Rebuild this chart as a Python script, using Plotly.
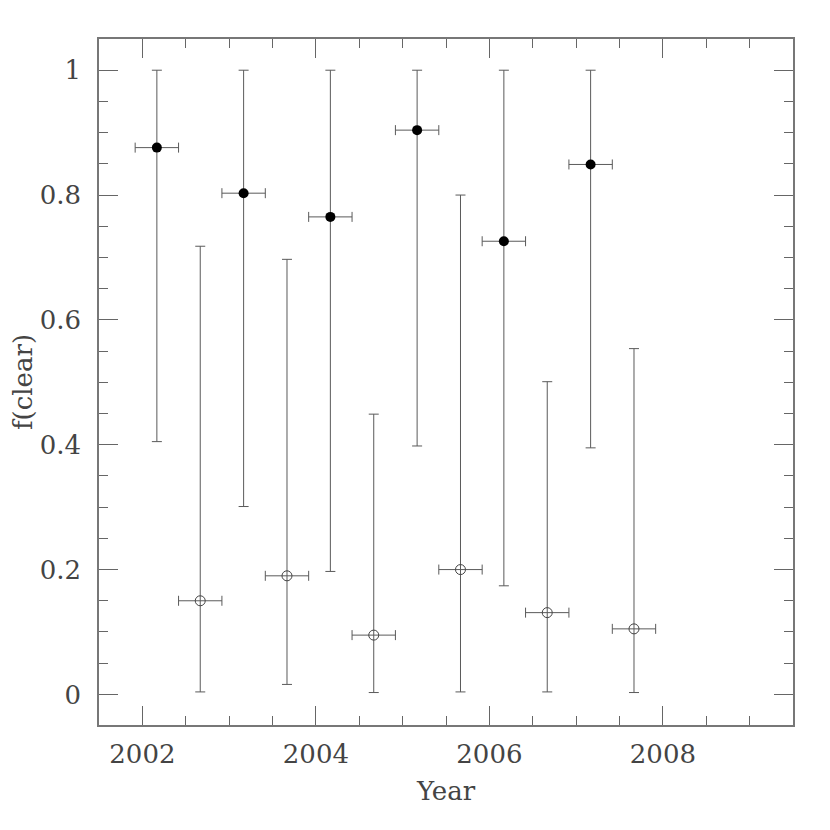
import plotly.graph_objects as go

# Filled (black) points
x_filled = [2002.167, 2003.167, 2004.167, 2005.167, 2006.167, 2007.167]
y_filled = [0.876, 0.803, 0.765, 0.904, 0.726, 0.849]
hi_filled = [1.0, 1.0, 1.0, 1.0, 1.0, 1.0]
lo_filled = [0.405, 0.301, 0.197, 0.398, 0.174, 0.395]

# Open points
x_open = [2002.667, 2003.667, 2004.667, 2005.667, 2006.667, 2007.667]
y_open = [0.150, 0.190, 0.095, 0.200, 0.131, 0.105]
hi_open = [0.718, 0.697, 0.449, 0.800, 0.501, 0.554]
lo_open = [0.004, 0.016, 0.003, 0.004, 0.004, 0.003]

x_halfwidth = 0.25

xticks = [2002, 2004, 2006, 2008]
yticks = [0, 0.2, 0.4, 0.6, 0.8, 1.0]
ytick_labels = ["0", "0.2", "0.4", "0.6", "0.8", "1"]

line_col = "#5a5a5a"
font_fam = "DejaVu Serif"
text_col = "#444444"

def err_y(y, hi, lo):
    return dict(type="data", symmetric=False,
                array=[h - v for h, v in zip(hi, y)],
                arrayminus=[v - l for v, l in zip(y, lo)],
                color=line_col, thickness=1, width=5)

def err_x():
    return dict(type="constant", value=x_halfwidth, color=line_col, thickness=1, width=5)

fig = go.Figure()
fig.add_trace(go.Scatter(
    x=x_open, y=y_open, mode="markers",
    marker=dict(symbol="circle-open", size=10, color="#444444", line=dict(width=1, color="#444444")),
    error_y=err_y(y_open, hi_open, lo_open), error_x=err_x(),
    showlegend=False))
fig.add_trace(go.Scatter(
    x=x_filled, y=y_filled, mode="markers",
    marker=dict(symbol="circle", size=10, color="black"),
    error_y=err_y(y_filled, hi_filled, lo_filled), error_x=err_x(),
    showlegend=False))

axis_common = dict(
    showgrid=False, zeroline=False, showline=True, linecolor="#777777", linewidth=1.5,
    mirror="ticks", ticks="inside", ticklen=19, tickwidth=1, tickcolor="#666666",
    tickfont=dict(family=font_fam, size=26, color=text_col),
    automargin=False,
)

fig.update_layout(
    width=830, height=830,
    margin=dict(l=91, r=45, t=31, b=113),
    paper_bgcolor="white", plot_bgcolor="white",
    xaxis=dict(range=[2001.5, 2009.5], tickvals=xticks, ticktext=[str(v) for v in xticks],
               minor=dict(dtick=0.5, tick0=2002, ticks="inside", ticklen=9, tickcolor="#666666", tickwidth=1),
               title=dict(text="Year", font=dict(family=font_fam, size=26, color=text_col), standoff=14),
               ticklabelstandoff=5,
               **axis_common),
    yaxis=dict(range=[-0.049, 1.05], tickvals=yticks, ticktext=ytick_labels,
               minor=dict(dtick=0.05, tick0=0, ticks="inside", ticklen=9, tickcolor="#666666", tickwidth=1),
               title=dict(text="f(clear)", font=dict(family=font_fam, size=26, color=text_col), standoff=2),
               ticklabelstandoff=11,
               **axis_common),
)

fig.write_html("out.html")
